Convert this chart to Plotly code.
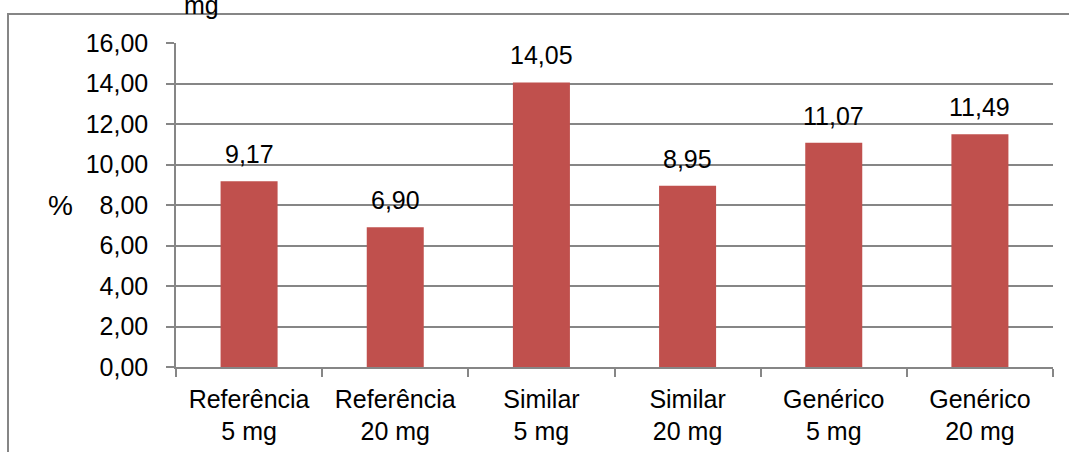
import plotly.graph_objects as go

# Category labels (two lines each) and percentage values
categories = ["Referência<br>5 mg", "Referência<br>20 mg", "Similar<br>5 mg",
              "Similar<br>20 mg", "Genérico<br>5 mg", "Genérico<br>20 mg"]
values = [9.17, 6.90, 14.05, 8.95, 11.07, 11.49]
y_ticks = [0, 2, 4, 6, 8, 10, 12, 14, 16]

FONT = "Liberation Sans, Arial, sans-serif"
FS = 25
GRID = "#868686"
BAR = "#C0504D"

W, H = 1069, 452
L, R, T, B = 176, 16, 43, 85
plot_w = W - L - R
plot_h = H - T - B

fig = go.Figure()
fig.add_trace(go.Bar(
    x=categories, y=values,
    marker=dict(color=BAR, line=dict(width=0)),
    hoverinfo="skip",
))

# Value labels above each bar, formatted with a decimal comma
for cat, v in zip(categories, values):
    fig.add_annotation(
        x=cat, y=v, xref="x", yref="y",
        text=f"{v:.2f}".replace(".", ","),
        showarrow=False, yanchor="bottom", yshift=11,
        font=dict(family=FONT, size=FS, color="#000000"),
    )

# Y-axis label
fig.add_annotation(
    x=0, xref="paper", y=8, yref="y", xshift=60 - L,
    text="%", showarrow=False, xanchor="center", yanchor="middle",
    font=dict(family=FONT, size=28, color="#000000"),
)

# Title tail visible above the frame
fig.add_annotation(
    x=(201 - L) / plot_w, xref="paper", y=(H - B - 21) / plot_h, yref="paper",
    text="mg", showarrow=False, xanchor="center", yanchor="bottom",
    font=dict(family=FONT, size=FS, color="#000000"),
)

# Outer chart frame
fig.add_shape(
    type="rect", xref="paper", yref="paper",
    x0=(8 - L) / plot_w, x1=(W + 10 - L) / plot_w,
    y0=(H - B - (H + 10)) / plot_h, y1=(H - B - 14) / plot_h,
    line=dict(color=GRID, width=2), fillcolor="rgba(0,0,0,0)", layer="below",
)

fig.update_layout(
    width=W, height=H,
    margin=dict(l=L, r=R, t=T, b=B, pad=0, autoexpand=False),
    paper_bgcolor="white", plot_bgcolor="white",
    separators=",.",
    bargap=0.61,
    showlegend=False,
    font=dict(family=FONT, size=FS, color="#000000"),
)
fig.update_xaxes(
    type="category",
    automargin=False,
    tickson="boundaries",
    ticks="outside", ticklen=8, tickcolor=GRID, tickwidth=1.5,
    showline=True, linecolor=GRID, linewidth=1.5,
    showgrid=False,
    tickfont=dict(family=FONT, size=FS, color="#000000"),
    ticklabelstandoff=9,
)
fig.update_yaxes(
    range=[0, 16], tickvals=y_ticks, tickformat=".2f",
    automargin=False,
    ticks="outside", ticklen=8, tickcolor=GRID, tickwidth=1.5,
    showline=True, linecolor=GRID, linewidth=1.5,
    showgrid=True, gridcolor=GRID, gridwidth=1.5,
    zeroline=False,
    tickfont=dict(family=FONT, size=FS, color="#000000"),
    ticklabelstandoff=13,
)

fig.write_html("out.html")
